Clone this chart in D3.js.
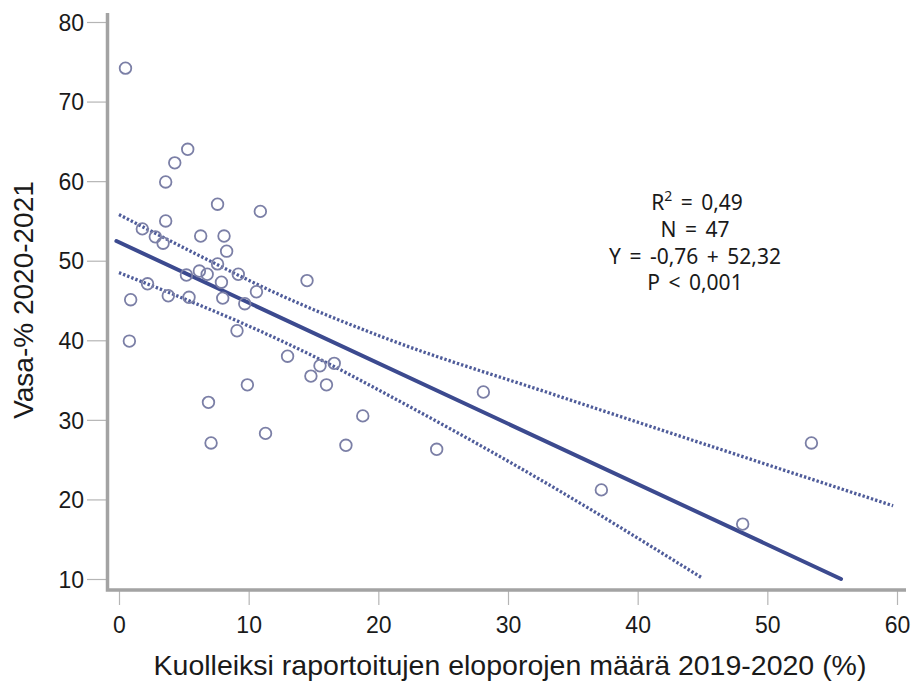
<!DOCTYPE html>
<html>
<head>
<meta charset="utf-8">
<script src="https://cdn.jsdelivr.net/npm/d3@7"></script>
<style>
  body { margin: 0; background: #fff; }
  svg { display: block; }
</style>
</head>
<body>
<svg id="main-svg" width="915" height="684"></svg>
<script>
// scatter points: [x %, y %]
var pointsX = [0.5, 5.3, 4.3, 3.6, 7.6, 10.9, 3.6, 1.8, 6.3, 8.1, 2.8, 3.4, 8.3, 7.6, 6.2, 6.8, 5.2, 9.2,
               14.5, 7.9, 2.2, 10.6, 3.8, 5.4, 8.0, 0.9, 9.7, 9.1, 0.8, 13.0, 16.6, 15.5, 14.8, 16.0, 9.9,
               28.1, 6.9, 18.8, 11.3, 7.1, 17.5, 53.4, 24.5, 37.2, 48.1];
var pointsY = [74.2, 64.0, 62.3, 59.9, 57.1, 56.2, 55.0, 54.0, 53.1, 53.1, 53.0, 52.2, 51.2, 49.6, 48.7, 48.3, 48.2, 48.3,
               47.5, 47.3, 47.1, 46.1, 45.6, 45.4, 45.3, 45.1, 44.6, 41.2, 39.9, 38.0, 37.1, 36.8, 35.5, 34.4, 34.4,
               33.5, 32.2, 30.5, 28.3, 27.1, 26.8, 27.1, 26.3, 21.2, 16.9];

// fitted line
var slope = -0.76;
var intercept = 52.32;

// confidence band, points
var upperBand = [[0, 55.8], [6, 50.8], [12, 46.0], [20.5, 40.3], [33.5, 33.2], [46, 26.5], [59.7, 19.2]];
var lowerBand = [[0, 48.5], [5.5, 44.9], [10, 41.8], [15.5, 37.6], [21, 32.9], [33, 22.0], [45, 10.1]];

var xTicks = [0, 10, 20, 30, 40, 50, 60];
var yTicks = [10, 20, 30, 40, 50, 60, 70, 80];

var statLines = ["N = 47", "Y = -0,76 + 52,32", "P < 0,001"];

var svg = d3.select("#main-svg");
var x = d3.scaleLinear().domain([0, 60]).range([119, 897]);
var y = d3.scaleLinear().domain([10, 80]).range([579, 22]);

var axisColor = "#a3a3a3";
var lineColor = "#3c4a8f";
var textFont = "'Liberation Sans', Arial, sans-serif";

// axes (detached SPSS style frame)
var xAxis = svg.append("g").attr("transform", "translate(0,591)")
    .call(d3.axisBottom(x).tickValues(xTicks).tickSize(14).tickSizeOuter(0).tickPadding(12));
xAxis.select(".domain").remove();
xAxis.selectAll(".tick line").attr("stroke", "#b5b5b5").attr("stroke-width", 1.2);
xAxis.selectAll(".tick text").attr("fill", "#1a1a1a").style("font-family", textFont).style("font-size", "23px");

var yAxis = svg.append("g").attr("transform", "translate(106,0)")
    .call(d3.axisLeft(y).tickValues(yTicks).tickSize(19).tickSizeOuter(0).tickPadding(3));
yAxis.select(".domain").remove();
yAxis.selectAll(".tick line").attr("stroke", "#b5b5b5").attr("stroke-width", 1.2);
yAxis.selectAll(".tick text").attr("fill", "#1a1a1a").attr("dy", "0.36em").style("font-family", textFont).style("font-size", "23px");

svg.append("path")
    .attr("d", "M107.5,13 L107.5,590 L906,590")
    .attr("fill", "none").attr("stroke", axisColor).attr("stroke-width", 3.5);

// axis titles
svg.append("text")
    .attr("x", 510).attr("y", 675)
    .attr("text-anchor", "middle")
    .style("font-family", textFont).style("font-size", "28.5px").attr("fill", "#1a1a1a")
    .text("Kuolleiksi raportoitujen eloporojen määrä 2019-2020 (%)");

svg.append("text")
    .attr("transform", "translate(33,300) rotate(-90)")
    .attr("text-anchor", "middle")
    .style("font-family", textFont).style("font-size", "28px").attr("fill", "#1a1a1a")
    .text("Vasa-% 2020-2021");

// confidence band lines
var bandLine = d3.line()
    .x(function(d) { return x(d[0]); })
    .y(function(d) { return y(d[1]); })
    .curve(d3.curveMonotoneX);

[upperBand, lowerBand].forEach(function(b) {
  svg.append("path")
      .attr("d", bandLine(b))
      .attr("fill", "none")
      .attr("stroke", lineColor)
      .attr("stroke-width", 3.3)
      .attr("stroke-dasharray", "2.4,2")
      .attr("opacity", 0.9);
});

// regression line, clipped at the bottom of the y range
var xEnd = (10 - intercept) / slope;
svg.append("line")
    .attr("x1", x(-0.2)).attr("y1", y(intercept + slope * -0.2))
    .attr("x2", x(xEnd)).attr("y2", y(10))
    .attr("stroke", lineColor).attr("stroke-width", 4)
    .attr("stroke-linecap", "round");

// points
svg.append("g").selectAll("circle")
    .data(pointsX.map(function(d, i) { return [d, pointsY[i]]; }))
    .enter().append("circle")
    .attr("cx", function(d) { return x(d[0]); })
    .attr("cy", function(d) { return y(d[1]); })
    .attr("r", 5.8)
    .attr("fill", "none")
    .attr("stroke", "#7b7fa6")
    .attr("stroke-width", 1.8);

// stats text
var statFont = "'Noto Sans', 'Open Sans', sans-serif";
var stats = svg.append("g")
    .style("font-family", statFont).style("font-size", "21px").style("word-spacing", "3px")
    .attr("fill", "#1a1a1a");
var r2 = stats.append("text").attr("x", 697).attr("y", 210).attr("text-anchor", "middle");
r2.append("tspan").text("R");
r2.append("tspan").attr("dy", -9).style("font-size", "14px").text("2");
r2.append("tspan").attr("dy", 9).text(" = 0,49");
stats.selectAll(".stat").data(statLines).enter().append("text")
    .attr("class", "stat")
    .attr("x", 695)
    .attr("y", function(d, i) { return 237 + i * 26.7; })
    .attr("text-anchor", "middle")
    .text(function(d) { return d; });
</script>
</body>
</html>
